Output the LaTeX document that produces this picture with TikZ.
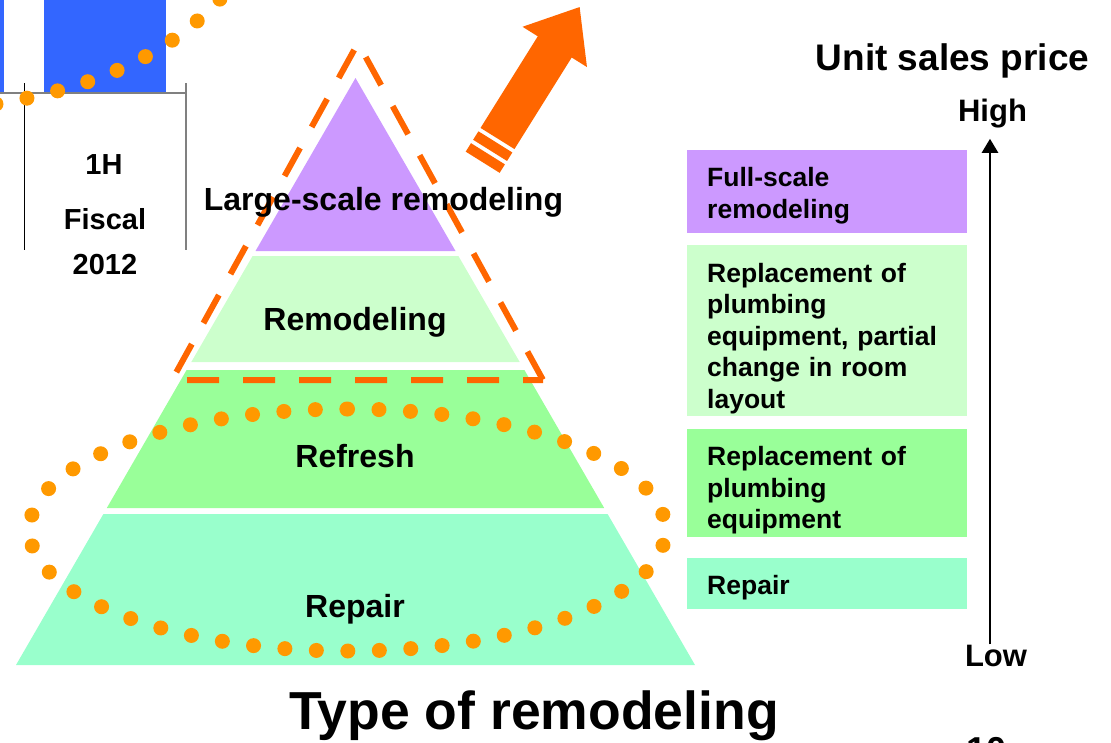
\documentclass[tikz,border=0pt]{standalone}
\usepackage{fontspec}
\setmainfont{Liberation Sans}
\usetikzlibrary{arrows.meta}

\definecolor{lilac}{HTML}{CC99FF}
\definecolor{palegreen}{HTML}{CCFFCC}
\definecolor{midgreen}{HTML}{99FF99}
\definecolor{mint}{HTML}{99FFCC}
\definecolor{barblue}{HTML}{3366FF}
\definecolor{hotorange}{HTML}{FF6600}
\definecolor{dotorange}{HTML}{FF9900}

\begin{document}
\begin{tikzpicture}[
  x=1pt, y=-1pt,
  >={Triangle[width=16pt,length=14pt]},
  lbl/.style={font=\fontsize{32}{36}\selectfont\bfseries, inner sep=0pt, anchor=base},
  axlbl/.style={font=\fontsize{29}{34}\selectfont\bfseries, inner sep=0pt, anchor=base},
  boxtxt/.style={text width=250pt, align=left, inner sep=0pt, anchor=north west,
              font=\fontsize{26.5}{31.5}\selectfont\bfseries},
  dots/.style={dotorange, line width=15pt, line cap=round, dash pattern=on 0pt off 31.5pt},
  dashtri/.style={hotorange, line width=6pt, dash pattern=on 32pt off 24pt, miter limit=10},
]
\useasboundingbox (0,0) rectangle (1111,742);

% piece of the bar chart behind
\fill[barblue] (0,0) rectangle (4,93);
\fill[barblue] (44,0) rectangle (166,93);
\draw[gray, line width=1.2pt] (0,93) -- (186,93);
\draw[line width=1pt] (24,83) -- (24,250);
\draw[gray, line width=1.2pt] (186,83) -- (186,250);
\node[axlbl] (half) at (104,174) {1H};
\node[axlbl] (fisc) at (105,229) {Fiscal};
\node[axlbl] (year) at (105,274) {2012};
\draw[dots] (-4,104) .. controls (80,90) and (170,62) .. (232,-15);

% pyramid
\fill[lilac] (355.5,78) -- (455.5,251) -- (255.5,251) -- cycle;
\fill[palegreen] (252.6,256) -- (458.4,256) -- (519.7,362) -- (191.3,362) -- cycle;
\fill[midgreen] (186.6,370) -- (524.4,370) -- (604.2,508) -- (106.8,508) -- cycle;
\fill[mint] (103.4,514) -- (607.6,514) -- (695,665) -- (16,665) -- cycle;

\draw[dashtri, dash phase=12pt] (543,380) -- (172,380) -- (358,43) -- cycle;

\node[lbl] (large) at (383.5,210) {Large-scale remodeling};
\node[lbl] (remod) at (355,330) {Remodeling};
\node[lbl] (refr) at (355,467) {Refresh};
\node[lbl] (rep) at (355,617) {Repair};

\draw[dots] (347.5,409) arc[start angle=90, end angle=-270, x radius=318pt, y radius=121pt];

% rising arrow
\begin{scope}[shift={(497.5,138.5)}, rotate=58, hotorange]
  \fill (0,-20) -- (108,-20) -- (108,-38) -- (155,0) -- (108,38) -- (108,20) -- (0,20) -- cycle;
  \fill (-4,-20) rectangle (-14,20);
  \fill (-18,-20) rectangle (-28,20);
\end{scope}

% price scale
\node[font=\fontsize{37}{42}\selectfont\bfseries, inner sep=0pt, anchor=base] (price) at (952.5,70) {Unit sales price};
\node[lbl, font=\fontsize{31}{36}\selectfont\bfseries] (high) at (992.5,121) {High};
\node[lbl, font=\fontsize{31}{36}\selectfont\bfseries] (low) at (996,666) {Low};
\draw[->, line width=2.5pt, shorten >=11pt] ([xshift=-6pt]low.north) -- ([xshift=-2.5pt]high.south);

\fill[lilac] (687,150) rectangle (967,233);
\fill[palegreen] (687,245) rectangle (967,416);
\fill[midgreen] (687,429) rectangle (967,537);
\fill[mint] (687,558) rectangle (967,609);
\node[boxtxt] (fulltxt) at (707,167.5) {Full-scale\\remodeling};
\node[boxtxt] (parttxt) at (707,263)
  {Replacement of\\plumbing\\equipment, partial\\change in room\\layout};
\node[boxtxt] (plumbtxt) at (707,446.5) {Replacement of\\plumbing\\equipment};
\node[boxtxt] (reptxt) at (707,575) {Repair};

\node[font=\fontsize{53.5}{58}\selectfont\bfseries, inner sep=0pt, anchor=base] (title) at (534,729) {Type of remodeling};
\node[font=\fontsize{36}{40}\selectfont\bfseries, inner sep=0pt, anchor=base west] (pageno) at (966,762) {10};
\end{tikzpicture}
\end{document}
